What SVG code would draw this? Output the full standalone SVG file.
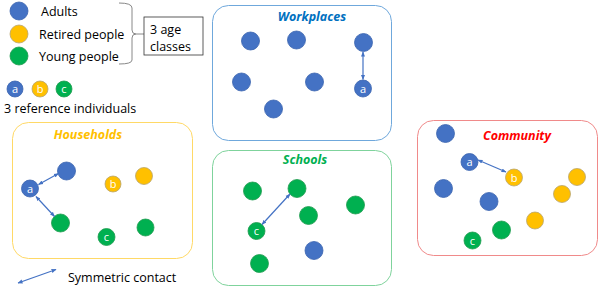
<svg xmlns="http://www.w3.org/2000/svg" width="600" height="289" viewBox="0 0 600 289">
<defs>
<style>
text{font-family:"Open Sans","Liberation Sans",sans-serif;}
.lbl{font-size:12.5px;fill:#000;}
.ttl{font-size:12.5px;font-weight:bold;font-style:italic;text-anchor:middle;}
.ad{fill:#4472C4;stroke:#3A63AE;stroke-width:0.8;}
.rt{fill:#FFC000;stroke:#B8A46E;stroke-width:0.8;}
.yg{fill:#00B050;stroke:#1E9A4E;stroke-width:0.8;}
.in{font-size:11px;fill:#fff;text-anchor:middle;}
.box{fill:#fff;stroke-width:1;}
.arr{stroke:#4472C4;stroke-width:1.2;fill:none;marker-start:url(#ah);marker-end:url(#ah);}
</style>
<marker id="ah" viewBox="0 0 10 10" refX="9" refY="5" markerWidth="5" markerHeight="5" orient="auto-start-reverse" markerUnits="userSpaceOnUse">
<path d="M0,1 L10,5 L0,9 z" fill="#4472C4"/>
</marker>
</defs>
<rect width="600" height="289" fill="#fff"/>

<g id="legend">
<circle class="ad" cx="19" cy="11" r="9"/>
<circle class="rt" cx="19" cy="34" r="9"/>
<circle class="yg" cx="19" cy="56" r="9"/>
<text class="lbl" x="41" y="16">Adults</text>
<text class="lbl" x="39" y="39">Retired people</text>
<text class="lbl" x="39" y="61">Young people</text>
<path d="M119,3 Q132,3 132,8 L132,30 Q132,34 136,34 Q132,34 132,38 L132,60 Q132,64 119,64" fill="none" stroke="#888" stroke-width="1"/>
<line x1="136" y1="34" x2="144" y2="34" stroke="#888" stroke-width="1"/>
<rect x="144" y="17" width="59" height="38" fill="#fff" stroke="#333" stroke-width="0.8"/>
<text class="lbl" x="150" y="34">3 age</text>
<text class="lbl" x="150" y="51">classes</text>
<circle class="ad" cx="15" cy="89" r="8"/><text class="in" x="15" y="93">a</text>
<circle class="rt" cx="40" cy="89" r="8"/><text class="in" x="40" y="93">b</text>
<circle class="yg" cx="64" cy="89" r="8"/><text class="in" x="64" y="93">c</text>
<text class="lbl" x="4" y="113">3 reference individuals</text>
<text class="lbl" x="68" y="282">Symmetric contact</text>
</g>

<g id="households">
<rect class="box" x="12.5" y="122.5" width="180" height="136" rx="16" stroke="#FFD966"/>
<text class="ttl" x="88" y="139" fill="#FFC000">Households</text>
<circle class="ad" cx="66.5" cy="171" r="9"/>
<circle class="ad" cx="30" cy="188.5" r="8.5"/><text class="in" x="30" y="192.5">a</text>
<circle class="rt" cx="113" cy="184" r="8"/><text class="in" x="113" y="188">b</text>
<circle class="rt" cx="144" cy="176" r="8.5"/>
<circle class="yg" cx="60.5" cy="223" r="9"/>
<circle class="yg" cx="106.5" cy="237" r="8.5"/><text class="in" x="106.5" y="241">c</text>
<circle class="yg" cx="145.5" cy="227.5" r="8.5"/>
</g>

<g id="workplaces">
<rect class="box" x="212.5" y="5.5" width="179" height="135" rx="16" stroke="#6FA8DC"/>
<text class="ttl" x="312" y="21" fill="#0070C0">Workplaces</text>
<circle class="ad" cx="250.5" cy="41" r="9"/>
<circle class="ad" cx="296.5" cy="40" r="9"/>
<circle class="ad" cx="363.5" cy="42.5" r="9"/>
<circle class="ad" cx="241.5" cy="82" r="9"/>
<circle class="ad" cx="314.5" cy="82" r="9"/>
<circle class="ad" cx="273.5" cy="109" r="9"/>
<circle class="ad" cx="363" cy="88.5" r="8.5"/><text class="in" x="363" y="92.5">a</text>
</g>

<g id="schools">
<rect class="box" x="212.5" y="150.5" width="179" height="135" rx="16" stroke="#7FD39C"/>
<text class="ttl" x="305" y="164" fill="#00B050">Schools</text>
<circle class="yg" cx="252.5" cy="191" r="9"/>
<circle class="yg" cx="297" cy="188.5" r="9"/>
<circle class="yg" cx="355.5" cy="205" r="9"/>
<circle class="yg" cx="308.5" cy="215.5" r="9"/>
<circle class="yg" cx="256.5" cy="231" r="8.5"/><text class="in" x="256.5" y="235">c</text>
<circle class="ad" cx="314" cy="250.5" r="9"/>
<circle class="yg" cx="259.5" cy="263.5" r="9"/>
</g>

<g id="community">
<rect class="box" x="417.5" y="120.5" width="180" height="135" rx="16" stroke="#F08A8A"/>
<text class="ttl" x="517" y="140" fill="#FF0000">Community</text>
<circle class="ad" cx="445.5" cy="133.5" r="9"/>
<circle class="ad" cx="469.5" cy="162" r="8.5"/><text class="in" x="469.5" y="166">a</text>
<circle class="rt" cx="514" cy="177.5" r="8.5"/><text class="in" x="514" y="181.5">b</text>
<circle class="rt" cx="577" cy="177" r="8.5"/>
<circle class="rt" cx="562" cy="194" r="8.5"/>
<circle class="ad" cx="443.5" cy="188.5" r="9"/>
<circle class="ad" cx="489" cy="201.5" r="9"/>
<circle class="rt" cx="535" cy="220.5" r="8.5"/>
<circle class="yg" cx="501.5" cy="230" r="9"/>
<circle class="yg" cx="472.5" cy="240.5" r="8.5"/><text class="in" x="472.5" y="244.5">c</text>
</g>

<g id="connectors">
<line class="arr" x1="38.5" y1="184.5" x2="58.5" y2="173.5"/>
<line class="arr" x1="36" y1="196.5" x2="54.5" y2="216.5"/>
<line class="arr" x1="363" y1="52" x2="363" y2="79.5"/>
<line class="arr" x1="262" y1="224.5" x2="290" y2="194"/>
<line class="arr" x1="478" y1="160" x2="506" y2="172"/>
<line class="arr" x1="18" y1="283" x2="56" y2="269.5"/>
</g>
</svg>
